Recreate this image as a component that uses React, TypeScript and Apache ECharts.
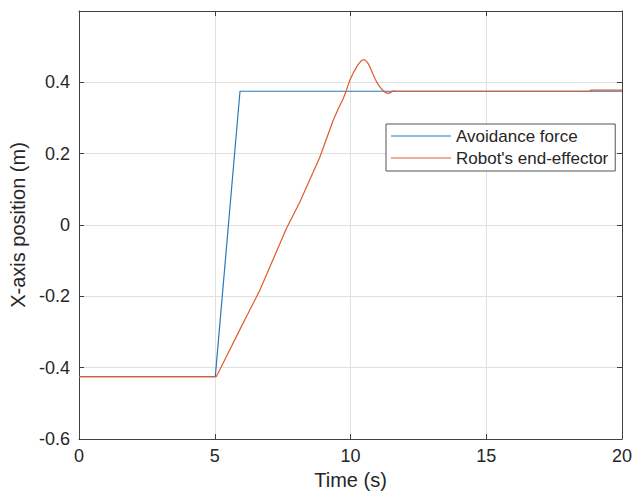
import React, { useEffect, useRef } from "react";
import * as echarts from "echarts";

const forceTime = [0, 5.02, 5.93, 20];
const forceValue = [-0.425, -0.425, 0.375, 0.375];

const robotTime = [0, 5.06, 5.2, 5.5, 5.92, 6.3, 6.66, 7.1, 7.64, 8.13, 8.5, 8.87, 9.36, 9.55, 9.73, 9.85, 9.97, 10.1, 10.22, 10.3, 10.38, 10.45, 10.52, 10.6, 10.66, 10.72, 10.77, 10.84, 10.9, 10.96, 11.01, 11.1, 11.2, 11.3, 11.38, 11.47, 11.57, 11.7, 18.8, 18.85, 20];
const robotValue = [-0.425, -0.425, -0.404, -0.358, -0.294, -0.237, -0.183, -0.105, -0.01, 0.064, 0.127, 0.19, 0.293, 0.326, 0.354, 0.378, 0.405, 0.426, 0.442, 0.452, 0.459, 0.463, 0.463, 0.458, 0.451, 0.442, 0.433, 0.421, 0.411, 0.402, 0.395, 0.385, 0.377, 0.371, 0.369, 0.371, 0.376, 0.375, 0.375, 0.378, 0.378];

const seriesNames = ["Avoidance force", "Robot's end-effector"];
const xTicks = { min: 0, max: 20, interval: 5 };
const yTicks = { min: -0.6, max: 0.6, interval: 0.2 };

const FONT = "Liberation Sans, Arial, sans-serif";
const AXIS_COLOR = "#404040";
const TEXT_COLOR = "#262626";
const BLUE = "#2a7ab8";
const ORANGE = "#e05a2b";

export default function App() {
  const ref = useRef<HTMLDivElement>(null);
  useEffect(() => {
    if (!ref.current) return;
    const chart = echarts.init(ref.current, undefined, { renderer: "svg" });
    const fmtY = (v: number) => String(Number(v.toFixed(1)));
    const baseAxis = {
      axisLine: { show: true, onZero: false, lineStyle: { color: AXIS_COLOR, width: 1 } },
      axisTick: { show: true, inside: true, length: 5, lineStyle: { color: AXIS_COLOR } },
    };
    chart.setOption({
      animation: false,
      backgroundColor: "#ffffff",
      textStyle: { fontFamily: FONT },
      grid: { left: 79, right: 12, top: 11, bottom: 56, containLabel: false, outerBoundsMode: "none" },
      legend: {
        data: [
          { name: seriesNames[0], icon: "rect", itemStyle: { color: BLUE } },
          { name: seriesNames[1], icon: "rect", itemStyle: { color: ORANGE } },
        ],
        orient: "vertical",
        left: 386,
        top: 124,
        itemWidth: 60,
        itemHeight: 1.2,
        itemGap: 4,
        padding: [3, 7, 4, 5],
        borderColor: "#555555",
        borderWidth: 1,
        backgroundColor: "#ffffff",
        textStyle: { fontSize: 17, color: TEXT_COLOR, fontFamily: FONT, lineHeight: 18 },
      },
      xAxis: [
        {
          type: "value",
          ...xTicks,
          position: "bottom",
          ...baseAxis,
          name: "Time (s)",
          nameLocation: "middle",
          nameGap: 31,
          nameTextStyle: { fontSize: 20, color: TEXT_COLOR, fontFamily: FONT },
          axisLabel: { fontSize: 18, color: TEXT_COLOR, margin: 8, fontFamily: FONT },
          splitLine: { show: true, lineStyle: { color: "#e0e0e0", width: 1 } },
        },
        {
          type: "value",
          ...xTicks,
          position: "top",
          ...baseAxis,
          axisLabel: { show: false },
          splitLine: { show: false },
        },
      ],
      yAxis: [
        {
          type: "value",
          ...yTicks,
          position: "left",
          ...baseAxis,
          name: "X-axis position (m)",
          nameLocation: "middle",
          nameGap: 47,
          nameTextStyle: { fontSize: 20, color: TEXT_COLOR, fontFamily: FONT },
          axisLabel: { fontSize: 18, color: TEXT_COLOR, margin: 9, fontFamily: FONT, showMaxLabel: false, formatter: fmtY },
          splitLine: { show: true, lineStyle: { color: "#e0e0e0", width: 1 } },
        },
        {
          type: "value",
          ...yTicks,
          position: "right",
          ...baseAxis,
          axisLabel: { show: false },
          splitLine: { show: false },
        },
      ],
      series: [
        {
          name: seriesNames[0],
          type: "line",
          xAxisIndex: 0,
          yAxisIndex: 0,
          symbol: "none",
          data: forceTime.map((t, i) => [t, forceValue[i]]),
          lineStyle: { color: BLUE, width: 1.2 },
          itemStyle: { color: BLUE },
        },
        {
          name: seriesNames[1],
          type: "line",
          xAxisIndex: 0,
          yAxisIndex: 0,
          symbol: "none",
          data: robotTime.map((t, i) => [t, robotValue[i]]),
          lineStyle: { color: ORANGE, width: 1.2 },
          itemStyle: { color: ORANGE },
        },
      ],
    });
    return () => chart.dispose();
  }, []);
  return <div ref={ref} style={{ position: "absolute", left: 0, top: 0, width: 634, height: 495 }} />;
}
